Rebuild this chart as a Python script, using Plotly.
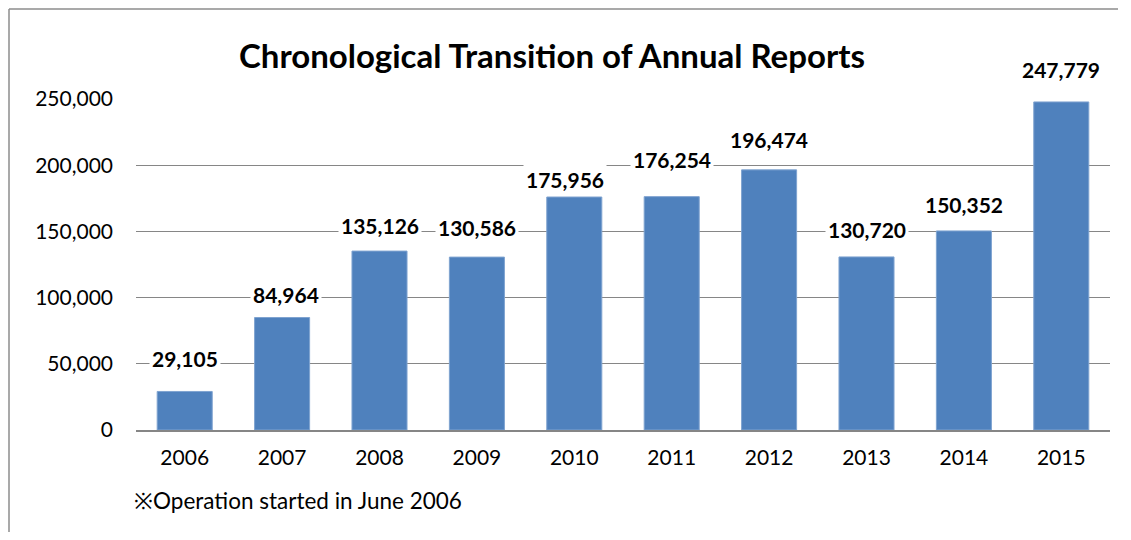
import plotly.graph_objects as go

years = [2006, 2007, 2008, 2009, 2010, 2011, 2012, 2013, 2014, 2015]
reports = [29105, 84964, 135126, 130586, 175956, 176254, 196474, 130720, 150352, 247779]
y_ticks = [0, 50000, 100000, 150000, 200000, 250000]

# label offsets (px above bar top), Excel labels were nudged by hand
label_dy = [30, 21, 23, 27, 15, 35, 28, 25, 24, 30]
label_dx = [0, 4, 0, 0, -9, 0, 0, 0, 0, 0]

# page body has an 8px margin, keep the figure small enough to avoid scrollbars
W, H = 1110, 524
L, R, T, B = 128, 8, 91, 102
pw = W - L - R
ph = H - T - B

FONT = "Lato"

fig = go.Figure()
fig.add_trace(go.Bar(
    x=years, y=reports,
    marker=dict(color="#4F81BD", line=dict(color="#7FA3D0", width=1)),
    width=0.565,
    showlegend=False,
))

for yr, v, dy, dx in zip(years, reports, label_dy, label_dx):
    fig.add_annotation(
        x=yr, y=v, text=f"<b>{v:,}</b>", showarrow=False,
        yanchor="bottom", yshift=dy - 13, xshift=dx,
        bgcolor="white", borderpad=2,
        font=dict(family=FONT, size=21, color="black"),
    )

fig.add_annotation(
    x=-4 / pw, y=-70 / ph, xref="paper", yref="paper",
    xanchor="left", yanchor="middle", showarrow=False,
    text="※Operation started in June 2006",
    font=dict(family=FONT, size=22.5, color="black"),
)

# chart border: only top and left edges show in the cropped picture
bx0 = -(L - 1) / pw
by1 = 1 + (T - 1) / ph
fig.add_shape(type="line", xref="paper", yref="paper",
              x0=bx0, x1=1 + R / pw, y0=by1, y1=by1,
              line=dict(color="#8C8C8C", width=1.5), layer="below")
fig.add_shape(type="line", xref="paper", yref="paper",
              x0=bx0, x1=bx0, y0=-B / ph, y1=by1,
              line=dict(color="#8C8C8C", width=1.5), layer="below")

fig.update_layout(
    width=W, height=H,
    margin=dict(l=L, r=R, t=T, b=B),
    paper_bgcolor="white", plot_bgcolor="white",
    title=dict(
        text="<b>Chronological Transition of Annual Reports</b>",
        x=544 / W, xanchor="center", y=1 - 48 / H, yanchor="middle",
        font=dict(family=FONT, size=33, color="black"),
    ),
    font=dict(family=FONT, size=21, color="black"),
)
fig.update_yaxes(
    range=[0, 250000], tickvals=y_ticks, tickformat=",",
    showgrid=True, gridcolor="#868686", gridwidth=1,
    zeroline=False, showline=False, ticks="", ticklabelstandoff=22,
    tickfont=dict(family=FONT, size=21),
)
fig.update_xaxes(
    range=[years[0] - 0.5, years[-1] + 0.5], tickvals=years,
    showgrid=False, zeroline=False,
    showline=True, linecolor="#868686", linewidth=2,
    ticks="", ticklabelstandoff=8,
    tickfont=dict(family=FONT, size=21),
)

fig.write_html("out.html", post_script="document.documentElement.style.overflow='hidden';")
